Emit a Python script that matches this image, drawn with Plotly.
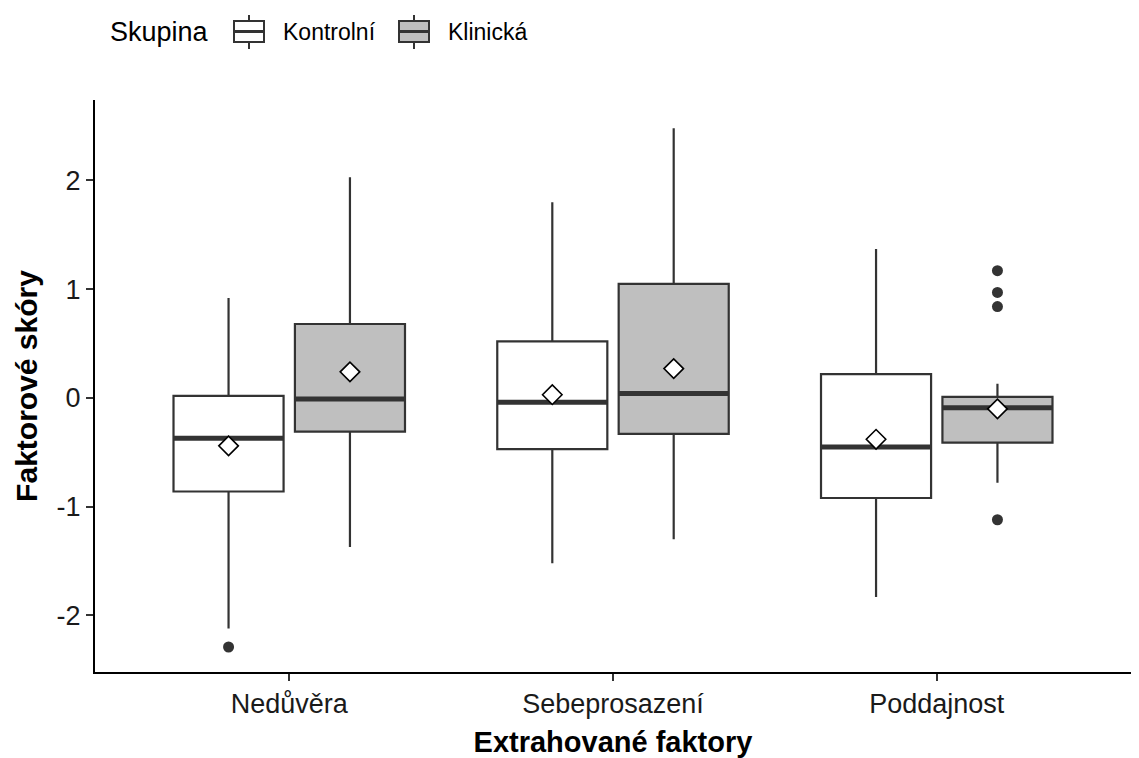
import plotly.graph_objects as go

# Factor categories on the x axis
factors = ["Nedůvěra", "Sebeprosazení", "Poddajnost"]
groups = ["Kontrolní", "Klinická"]

# Box summaries per group (one value per factor)
kontrolni_q1 = [-0.86, -0.47, -0.92]
kontrolni_median = [-0.37, -0.04, -0.45]
kontrolni_q3 = [0.02, 0.52, 0.22]
kontrolni_lower = [-2.12, -1.52, -1.83]
kontrolni_upper = [0.92, 1.80, 1.37]
kontrolni_mean = [-0.44, 0.03, -0.38]

klinicka_q1 = [-0.31, -0.33, -0.41]
klinicka_median = [-0.01, 0.04, -0.09]
klinicka_q3 = [0.68, 1.05, 0.01]
klinicka_lower = [-1.37, -1.30, -0.78]
klinicka_upper = [2.03, 2.48, 0.13]
klinicka_mean = [0.24, 0.27, -0.10]

# Outlying observations: (factor index, value)
kontrolni_outliers = [(0, -2.29)]
klinicka_outliers = [(2, 1.17), (2, 0.97), (2, 0.84), (2, -1.12)]

FONT = "Liberation Sans, Arial, sans-serif"
EDGE = "#333333"
FILLS = ["#FFFFFF", "#BFBFBF"]
DODGE = 0.1875      # half of the dodge width (0.75 / 4)
BOX_W = 0.34

W, H = 1139, 758
M = dict(l=95, r=8, t=100, b=86)
PW, PH = W - M["l"] - M["r"], H - M["t"] - M["b"]


def px(xp):
    """Horizontal pixel position -> paper fraction."""
    return (xp - M["l"]) / PW


def py(yp):
    """Vertical pixel position (from top) -> paper fraction."""
    return (H - M["b"] - yp) / PH


series = [
    dict(name=groups[0], fill=FILLS[0], offset=-DODGE,
         q1=kontrolni_q1, med=kontrolni_median, q3=kontrolni_q3,
         lo=kontrolni_lower, hi=kontrolni_upper, mean=kontrolni_mean,
         out=kontrolni_outliers),
    dict(name=groups[1], fill=FILLS[1], offset=DODGE,
         q1=klinicka_q1, med=klinicka_median, q3=klinicka_q3,
         lo=klinicka_lower, hi=klinicka_upper, mean=klinicka_mean,
         out=klinicka_outliers),
]

fig = go.Figure()

for s in series:
    xs = [i + s["offset"] for i in range(len(factors))]
    fig.add_trace(go.Box(
        x=xs, q1=s["q1"], median=s["med"], q3=s["q3"],
        lowerfence=s["lo"], upperfence=s["hi"],
        orientation="v", width=BOX_W, whiskerwidth=0,
        fillcolor=s["fill"], line=dict(color=EDGE, width=2.2),
        boxpoints=False, name=s["name"], hoverinfo="skip", showlegend=False,
    ))

for s in series:
    xs = [i + s["offset"] for i in range(len(factors))]
    # thick median bars
    mx, my = [], []
    for x, m in zip(xs, s["med"]):
        mx += [x - BOX_W / 2, x + BOX_W / 2, None]
        my += [m, m, None]
    fig.add_trace(go.Scatter(
        x=mx, y=my, mode="lines", line=dict(color=EDGE, width=5),
        showlegend=False, hoverinfo="skip",
    ))
    # outliers
    if s["out"]:
        fig.add_trace(go.Scatter(
            x=[i + s["offset"] for i, _ in s["out"]],
            y=[v for _, v in s["out"]],
            mode="markers", marker=dict(color=EDGE, size=11, symbol="circle"),
            showlegend=False, hoverinfo="skip",
        ))
    # group means
    fig.add_trace(go.Scatter(
        x=xs, y=s["mean"], mode="markers",
        marker=dict(symbol="diamond", size=15, color="white",
                    line=dict(color="black", width=1.6)),
        showlegend=False, hoverinfo="skip",
    ))

# Legend drawn as boxplot keys above the panel
shapes, annotations = [], []
annotations.append(dict(
    text="Skupina", x=px(108), y=py(32), xref="paper", yref="paper",
    xanchor="left", yanchor="middle", showarrow=False,
    font=dict(size=27, color="black"),
))
key_left = [234, 399]
label_left = [281, 446]
for name, fill, kx, lx in zip(groups, FILLS, key_left, label_left):
    cx = kx + 15
    shapes.append(dict(type="line", xref="paper", yref="paper",
                       x0=px(cx), x1=px(cx), y0=py(15), y1=py(49),
                       line=dict(color=EDGE, width=2)))
    shapes.append(dict(type="rect", xref="paper", yref="paper",
                       x0=px(kx), x1=px(kx + 30), y0=py(42), y1=py(21),
                       fillcolor=fill, line=dict(color=EDGE, width=2)))
    shapes.append(dict(type="line", xref="paper", yref="paper",
                       x0=px(kx), x1=px(kx + 30), y0=py(31.5), y1=py(31.5),
                       line=dict(color=EDGE, width=3)))
    annotations.append(dict(
        text=name, x=px(lx), y=py(32), xref="paper", yref="paper",
        xanchor="left", yanchor="middle", showarrow=False,
        font=dict(size=23, color="black"),
    ))

fig.update_layout(
    width=W, height=H, margin=M,
    paper_bgcolor="white", plot_bgcolor="white",
    font=dict(family=FONT, color="black", size=24),
    showlegend=False,
    shapes=shapes, annotations=annotations,
    xaxis=dict(
        range=[-0.6, 2.6], tickmode="array", automargin=False,
        tickvals=list(range(len(factors))), ticktext=factors,
        showline=True, linecolor="black", linewidth=2,
        ticks="outside", ticklen=7, tickwidth=1.5, tickcolor=EDGE,
        showgrid=False, zeroline=False,
        tickfont=dict(size=27, color="#1a1a1a"),
        title=dict(text="<b>Extrahované faktory</b>", font=dict(size=29), standoff=15),
    ),
    yaxis=dict(
        range=[-2.52, 2.74], tickmode="array", automargin=False,
        tickvals=[-2, -1, 0, 1, 2], ticktext=["-2", "-1", "0", "1", "2"],
        showline=True, linecolor="black", linewidth=2,
        ticks="outside", ticklen=7, tickwidth=1.5, tickcolor=EDGE,
        showgrid=False, zeroline=False,
        tickfont=dict(size=27, color="#1a1a1a"),
        title=dict(text="<b>Faktorové skóry</b>", font=dict(size=30), standoff=10),
    ),
)

fig.write_html("out.html")
